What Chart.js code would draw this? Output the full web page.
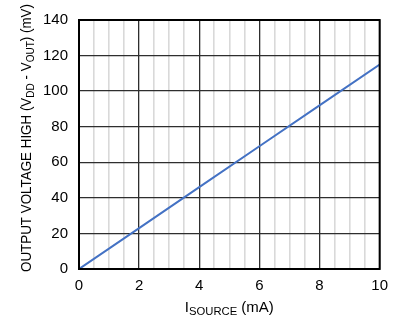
<!DOCTYPE html>
<html>
<head>
<meta charset="utf-8">
<script src="https://cdn.jsdelivr.net/npm/chart.js@4/dist/chart.umd.min.js"></script>
<style>
  html, body { margin: 0; padding: 0; background: #fff; }
  #wrap { width: 396px; height: 318px; }
</style>
</head>
<body>
<div id="wrap"><canvas id="myChart" width="396" height="318"></canvas></div>
<script>
// values
var isource = [0, 2, 4, 6, 8, 10];
var voh = [0, 23, 46, 69, 92, 115];

var xTicks = [0, 2, 4, 6, 8, 10];
var yTicks = [0, 20, 40, 60, 80, 100, 120, 140];

var FONT = "'Liberation Sans', Arial, sans-serif";

// draws text made of [text, isSub] parts, returns width
function drawParts(ctx, parts, x, y, size, measureOnly) {
    var w = 0;
    parts.forEach(p => {
        var s = p[1] ? size * 0.75 : size;
        ctx.font = s + "px " + FONT;
        var tw = ctx.measureText(p[0]).width;
        if (!measureOnly) ctx.fillText(p[0], x + w, y + (p[1] ? size * 0.18 : 0));
        w += tw;
    });
    return w;
}

var frameAndTitles = {
    id: 'frameAndTitles',
    afterDraw: chart => {
        var ctx = chart.ctx;
        var a = chart.chartArea;
        ctx.save();
        ctx.strokeStyle = '#000';
        ctx.lineWidth = 2;
        ctx.strokeRect(a.left, a.top, a.right - a.left, a.bottom - a.top);

        ctx.fillStyle = '#000';
        ctx.textBaseline = 'alphabetic';
        // x title
        var xp = [["I", false], ["SOURCE", true], [" (mA)", false]];
        var xw = drawParts(ctx, xp, 0, 0, 15, true);
        drawParts(ctx, xp, (a.left + a.right) / 2 - xw / 2, 312, 15, false);

        // y title (narrow face in the original, so squeeze it)
        var yp = [["OUTPUT VOLTAGE HIGH (V", false], ["DD", true], [" - V", false], ["OUT", true], [") (mV)", false]];
        var yw = drawParts(ctx, yp, 0, 0, 15, true);
        ctx.translate(31, 138);
        ctx.rotate(-Math.PI / 2);
        ctx.scale(268 / yw, 1);
        drawParts(ctx, yp, -yw / 2, 0, 15, false);
        ctx.restore();
    }
};

createChart = () => {
    chart = new Chart(document.getElementById("myChart"), {
        type: 'line',
        data: {
            datasets: [{
                data: isource.map((x, i) => ({ x: x, y: voh[i] })),
                borderColor: "#4472C4",
                borderWidth: 2,
                pointRadius: 0,
                fill: false,
                tension: 0
            }]
        },
        options: {
            responsive: false,
            animation: false,
            layout: { padding: { top: 6, right: 16, left: 0, bottom: 0 } },
            plugins: { legend: { display: false }, tooltip: { enabled: false } },
            scales: {
                x: {
                    type: 'linear',
                    min: 0,
                    max: 10,
                    afterFit: s => { s.height = 49; },
                    afterBuildTicks: s => {
                        var t = [];
                        for (var i = 0; i <= 20; i++) t.push({ value: i * 0.5 });
                        s.ticks = t;
                    },
                    ticks: {
                        autoSkip: false,
                        maxRotation: 0,
                        padding: 8,
                        color: '#000',
                        font: { family: FONT, size: 15 },
                        callback: v => xTicks.indexOf(v) >= 0 ? String(v) : ''
                    },
                    grid: {
                        drawTicks: false,
                        color: c => (c.tick && xTicks.indexOf(c.tick.value) >= 0) ? '#2e2e2e' : '#d9d9d9',
                        lineWidth: c => (c.tick && xTicks.indexOf(c.tick.value) >= 0) ? 1.3 : 1.6
                    },
                    border: { display: false }
                },
                y: {
                    type: 'linear',
                    min: 0,
                    max: 140,
                    afterFit: s => { s.width = 79; },
                    afterBuildTicks: s => { s.ticks = yTicks.map(v => ({ value: v })); },
                    ticks: {
                        padding: 11,
                        color: '#000',
                        font: { family: FONT, size: 15 }
                    },
                    grid: {
                        drawTicks: false,
                        color: '#2e2e2e',
                        lineWidth: 1.3
                    },
                    border: { display: false }
                }
            }
        },
        plugins: [frameAndTitles]
    });
}

createChart();
</script>
</body>
</html>
